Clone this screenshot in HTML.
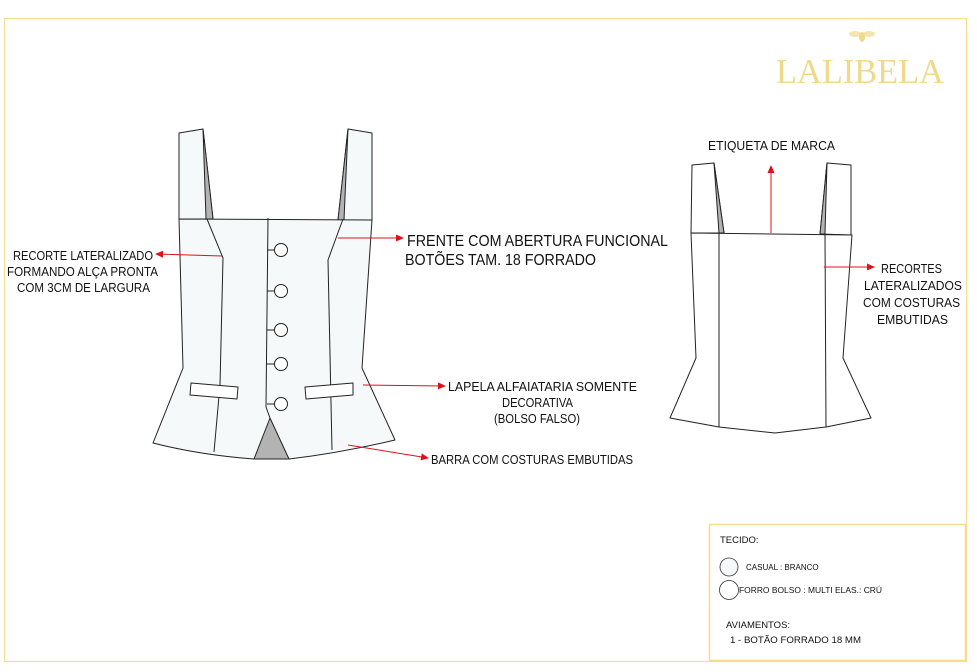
<!DOCTYPE html>
<html><head><meta charset="utf-8"><style>
html,body{margin:0;padding:0;background:#fff;}
svg{display:block;}
text{font-family:"Liberation Sans Narrow","Liberation Sans",sans-serif;fill:#111;}
</style></head><body>
<svg width="977" height="672" viewBox="0 0 977 672" xmlns="http://www.w3.org/2000/svg">
<defs>
<marker id="ah" markerWidth="8" markerHeight="8" refX="7" refY="4" orient="auto" markerUnits="userSpaceOnUse"><path d="M0,0.5 L8,4 L0,7.5 Z" fill="#e0101a"/></marker>
</defs>
<!-- frame -->
<rect x="4.5" y="18.5" width="962" height="643" fill="none" stroke="#f6df8e" stroke-width="1.2"/>
<rect x="709.5" y="524.5" width="256" height="136" fill="#fff" stroke="#f3dc8c" stroke-width="1.5"/>

<!-- logo -->
<g fill="#f0d98a" stroke="none">
<ellipse cx="862" cy="37" rx="3" ry="5"/>
<ellipse cx="855" cy="34" rx="6" ry="3" opacity="0.7"/>
<ellipse cx="869" cy="34" rx="6" ry="3" opacity="0.7"/>
</g>
<text x="776" y="83" font-family="Liberation Serif,serif" font-size="35" style="font-family:'Liberation Serif',serif;fill:#f0d98a" textLength="168" lengthAdjust="spacingAndGlyphs">LALIBELA</text>

<!-- FRONT garment -->
<g stroke="#222" stroke-width="1" fill="#f6f9fa" stroke-linejoin="round">
<polygon points="179,133 203,129 213,219 179,219"/>
<polygon points="203,129 213,219 206,219" fill="#b3b3b3"/>
<polygon points="348,129 372,133 372,220 338,220"/>
<polygon points="348,129 338,220 344,220" fill="#b3b3b3"/>
<path d="M179,219 L372,220 L362,368 L395,440 Q340,453 289,459 L254,459 Q200,455 153,443 L183,368 Z"/>
<polygon points="254,459 270,418 289,459" fill="#b3b3b3"/>
<path d="M268,218 L266,407 L270,418" fill="none"/>
<path d="M207,219 L223,258 L220,385 L214,452" fill="none"/>
<path d="M343,219 L328,260 L332,450" fill="none"/>
<polygon points="191,383 238,387 237,399 190,395" fill="#fff"/>
<polygon points="305,387 353,383 353,395 306,399" fill="#fff"/>
<g fill="#fff">
<line x1="267" y1="250" x2="275" y2="250"/><ellipse cx="281" cy="250" rx="6.5" ry="6.5"/>
<line x1="267" y1="291" x2="275" y2="291"/><ellipse cx="281" cy="291" rx="6.5" ry="6.5"/>
<line x1="267" y1="330" x2="275" y2="330"/><ellipse cx="281" cy="330" rx="6.5" ry="6.5"/>
<line x1="267" y1="364" x2="275" y2="364"/><ellipse cx="281" cy="364" rx="6.5" ry="6.5"/>
<line x1="267" y1="404" x2="275" y2="404"/><ellipse cx="281" cy="404" rx="6.5" ry="6.5"/>
</g>
</g>

<!-- BACK garment -->
<g stroke="#222" stroke-width="1" fill="#fff" stroke-linejoin="round">
<polygon points="692,165 714,163 724,233 691,233"/>
<polygon points="714,163 724,233 719,233" fill="#b3b3b3"/>
<polygon points="827,163 851,165 851,235 820,234"/>
<polygon points="827,163 820,234 825,234" fill="#b3b3b3"/>
<path d="M691,233 L852,235 L843,358 L871,418 L826,427 L775,433 L719,427 L670,418 L696,358 Z"/>
<line x1="719" y1="233" x2="719" y2="427"/>
<line x1="825" y1="234" x2="826" y2="427"/>
</g>

<!-- arrows -->
<g stroke="#e0101a" stroke-width="1" fill="none">
<line x1="222" y1="256" x2="156" y2="254" marker-end="url(#ah)"/>
<line x1="338" y1="238" x2="403" y2="238" marker-end="url(#ah)"/>
<line x1="363" y1="385" x2="445" y2="386" marker-end="url(#ah)"/>
<line x1="348" y1="445" x2="428" y2="458" marker-end="url(#ah)"/>
<line x1="771" y1="233" x2="771" y2="166" marker-end="url(#ah)"/>
<line x1="824" y1="267" x2="874" y2="267" marker-end="url(#ah)"/>
</g>

<!-- labels -->
<g font-size="12.5">
<text x="13" y="260" textLength="140" lengthAdjust="spacingAndGlyphs">RECORTE LATERALIZADO</text>
<text x="7" y="276" textLength="151" lengthAdjust="spacingAndGlyphs">FORMANDO ALÇA PRONTA</text>
<text x="17" y="292" textLength="133" lengthAdjust="spacingAndGlyphs">COM 3CM DE LARGURA</text>
<text x="448" y="391" textLength="189" lengthAdjust="spacingAndGlyphs">LAPELA ALFAIATARIA SOMENTE</text>
<text x="502" y="407" textLength="71" lengthAdjust="spacingAndGlyphs">DECORATIVA</text>
<text x="494" y="423" textLength="86" lengthAdjust="spacingAndGlyphs">(BOLSO FALSO)</text>
<text x="431" y="464" textLength="202" lengthAdjust="spacingAndGlyphs">BARRA COM COSTURAS EMBUTIDAS</text>
<text x="708" y="150" textLength="127" lengthAdjust="spacingAndGlyphs">ETIQUETA DE MARCA</text>
<text x="881" y="273" textLength="61" lengthAdjust="spacingAndGlyphs">RECORTES</text>
<text x="864" y="290" textLength="98" lengthAdjust="spacingAndGlyphs">LATERALIZADOS</text>
<text x="863" y="307" textLength="97" lengthAdjust="spacingAndGlyphs">COM COSTURAS</text>
<text x="877" y="324" textLength="71" lengthAdjust="spacingAndGlyphs">EMBUTIDAS</text>
</g>
<g font-size="15.5">
<text x="407" y="246" textLength="261" lengthAdjust="spacingAndGlyphs">FRENTE COM ABERTURA FUNCIONAL</text>
<text x="405" y="265" textLength="191" lengthAdjust="spacingAndGlyphs">BOTÕES TAM. 18 FORRADO</text>
</g>

<!-- spec box -->
<g style="font-family:'Liberation Sans',sans-serif">
<text x="720" y="543" font-size="9.5" style="font-family:'Liberation Sans',sans-serif">TECIDO:</text>
<circle cx="729" cy="567" r="9" fill="#f6f9fa" stroke="#333" stroke-width="0.8"/>
<text x="746" y="570" font-size="8" style="font-family:'Liberation Sans',sans-serif">CASUAL : BRANCO</text>
<circle cx="729" cy="590" r="9.5" fill="#fff" stroke="#333" stroke-width="0.8"/>
<text x="739" y="593" font-size="8" style="font-family:'Liberation Sans',sans-serif" textLength="143" lengthAdjust="spacingAndGlyphs">FORRO BOLSO : MULTI ELAS.: CRÚ</text>
<text x="726" y="628" font-size="9.5" style="font-family:'Liberation Sans',sans-serif">AVIAMENTOS:</text>
<text x="730" y="643" font-size="9.5" style="font-family:'Liberation Sans',sans-serif" textLength="131" lengthAdjust="spacingAndGlyphs">1 - BOTÃO FORRADO 18 MM</text>
</g>
</svg>
</body></html>
